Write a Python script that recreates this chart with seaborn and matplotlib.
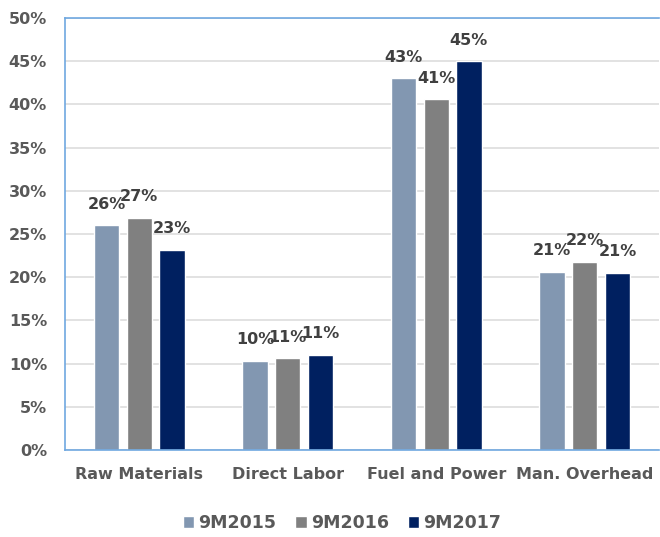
import matplotlib
matplotlib.use("Agg")
import matplotlib.pyplot as plt
import seaborn as sns
import pandas as pd
from matplotlib.ticker import FuncFormatter, MultipleLocator

# Cost structure shares (% of total cost) by period
categories = ["Raw Materials", "Direct Labor", "Fuel and Power", "Man. Overhead"]
periods = ["9M2015", "9M2016", "9M2017"]
share_2015 = [26.0, 10.3, 43.0, 20.6]
share_2016 = [26.9, 10.6, 40.6, 21.8]
share_2017 = [23.2, 11.0, 45.0, 20.5]
colors = ["#8297B1", "#808080", "#002060"]

rows = []
for period, vals in zip(periods, [share_2015, share_2016, share_2017]):
    for cat, v in zip(categories, vals):
        rows.append({"category": cat, "period": period, "share": v})
df = pd.DataFrame(rows)

sns.set_style("white")
plt.rcParams["font.family"] = ["DejaVu Sans"]

fig = plt.figure(figsize=(6.6, 5.37), dpi=100)
ax = fig.add_axes([65 / 660, 87 / 537, 594 / 660, 432 / 537])

sns.barplot(data=df, x="category", y="share", hue="period", order=categories,
            hue_order=periods, palette=colors, width=0.66, gap=0.22,
            saturation=1, ax=ax, legend=True)

ax.set_ylim(0, 50)
ax.set_xlim(-0.5, len(categories) - 0.5)
ax.yaxis.set_major_locator(MultipleLocator(5))
ax.yaxis.set_major_formatter(FuncFormatter(lambda v, _: f"{v:.0f}%"))
ax.set_xlabel("")
ax.set_ylabel("")

ax.grid(axis="y", color="#DDDDDD", linewidth=1.2)
ax.set_axisbelow(True)
for side in ["left", "top", "bottom"]:
    ax.spines[side].set_visible(True)
    ax.spines[side].set_color("#6FA8E0")
    ax.spines[side].set_linewidth(1.2)
ax.spines["right"].set_visible(False)

ax.tick_params(axis="y", length=0, pad=13, labelsize=11.5, labelcolor="#595959")
ax.tick_params(axis="x", length=0, pad=12, labelsize=11.5, labelcolor="#595959")
for lbl in ax.get_xticklabels() + ax.get_yticklabels():
    lbl.set_fontweight("bold")

# Value labels above each bar
for container in ax.containers:
    for bar in container:
        h = bar.get_height()
        ax.annotate(f"{int(h + 0.5)}%", (bar.get_x() + bar.get_width() / 2, h),
                    xytext=(0, 12), textcoords="offset points", ha="center",
                    va="baseline", fontsize=11.5, fontweight="bold", color="#404040")

handles, labels = ax.get_legend_handles_labels()
ax.get_legend().remove()
fig.legend(handles, labels, loc="center", bbox_to_anchor=(342 / 660, 1 - 523 / 537),
           ncol=3, frameon=False, handlelength=0.65, handleheight=0.65,
           handletextpad=0.25, columnspacing=1.1,
           prop={"size": 12.5, "weight": "bold"}, labelcolor="#595959")

fig.savefig("out.png", dpi=100)
